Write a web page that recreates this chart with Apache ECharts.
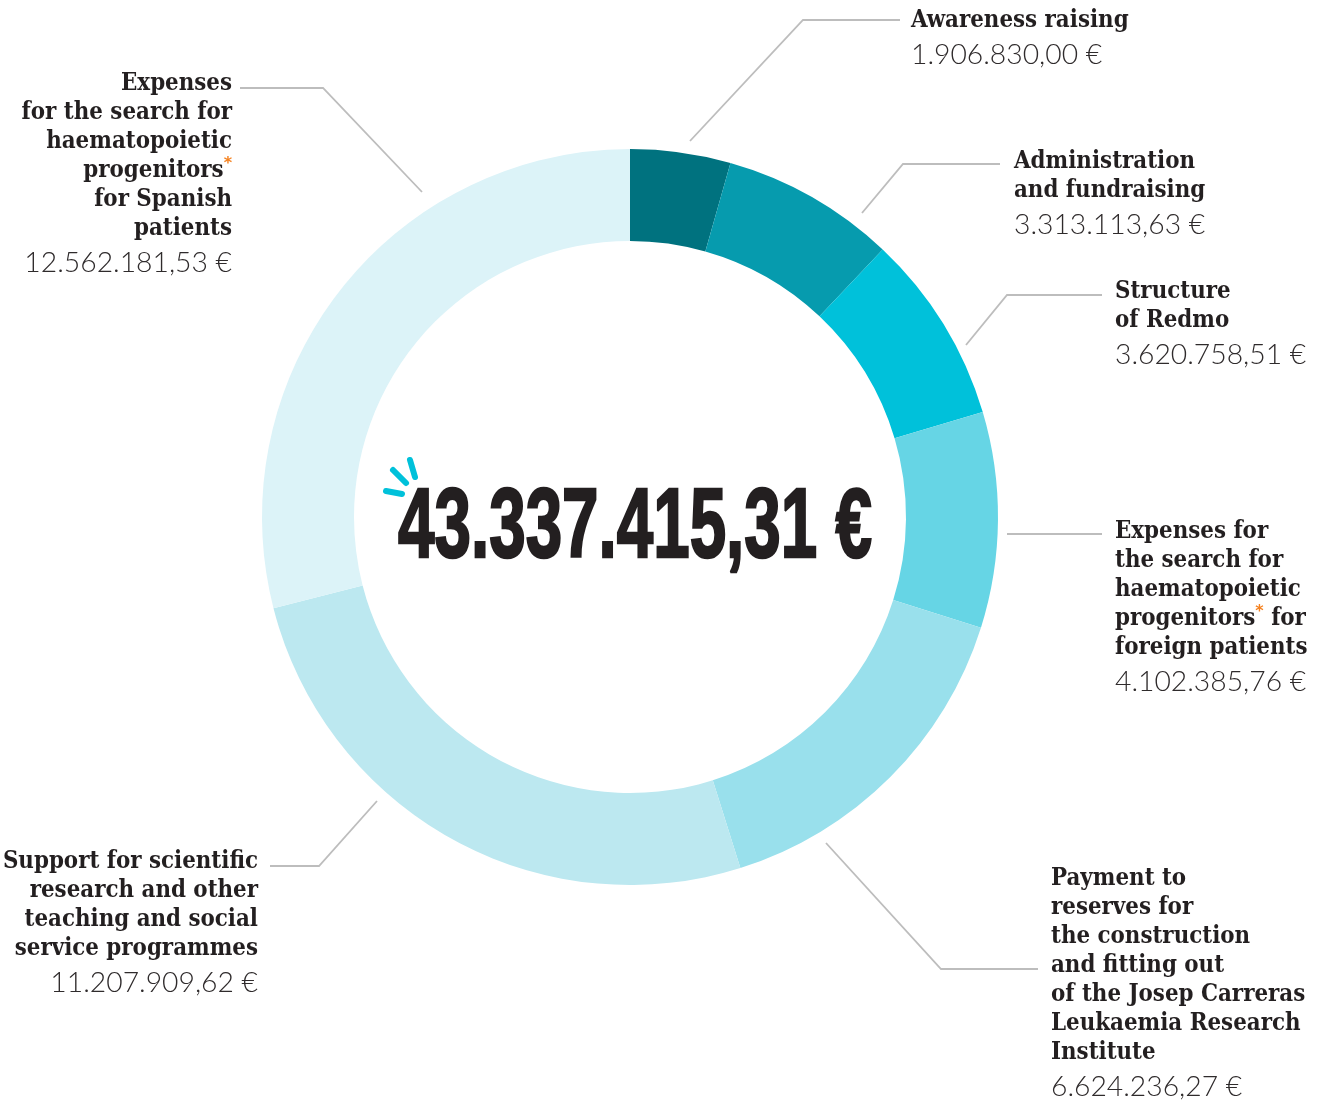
<!DOCTYPE html>
<html><head><meta charset="utf-8">
<script src="https://cdn.jsdelivr.net/npm/echarts@6/dist/echarts.min.js"></script>
<style>html,body{margin:0;padding:0;background:#fff}#c{width:1325px;height:1103px}</style>
</head><body><div id="c"></div>
<script>
const names = [
  ['Awareness raising'],
  ['Administration','and fundraising'],
  ['Structure','of Redmo'],
  ['Expenses for','the search for','haematopoietic','progenitors* for','foreign patients'],
  ['Payment to','reserves for','the construction','and fitting out','of the Josep Carreras','Leukaemia Research','Institute'],
  ['Support for scientific','research and other','teaching and social','service programmes'],
  ['Expenses','for the search for','haematopoietic','progenitors*','for Spanish','patients']
];
const values = [1906830.00, 3313113.63, 3620758.51, 4102385.76, 6624236.27, 11207909.62, 12562181.53];
const valueLabels = ['1.906.830,00 €','3.313.113,63 €','3.620.758,51 €','4.102.385,76 €','6.624.236,27 €','11.207.909,62 €','12.562.181,53 €'];
const colors = ['#00727f','#069bae','#00c1da','#66d5e5','#99e0ec','#bce8f0','#dcf3f8'];
const totalLabel = '43.337.415,31 €';
const labelAnchors = [[911,6,'left'],[1014,147,'left'],[1115,277,'left'],[1115,517,'left'],[1051,864,'left'],[258,847,'right'],[232,69,'right']];
const leaders = [
  [[690,141],[803,20],[900,20]],
  [[862,213],[903,164],[1000,164]],
  [[966,345],[1007,295],[1102,295]],
  [[1007,534],[1050,534],[1102,534]],
  [[826,843],[941,969],[1038,969]],
  [[377,801],[319,866],[270,866]],
  [[422,192],[323,88],[240,88]]
];
const sparks = [[[386,491],[402,494]],[[393,470],[406,483]],[[410,460],[415,477]]];

const rich = t => t.split('\n').map(l => l.split('*').map(p => `{n|${p}}`).join('{s|*}')).join('\n');
const chart = echarts.init(document.getElementById('c'), null, {renderer:'canvas'});
chart.setOption({
  animation:false,
  backgroundColor:'#fff',
  series:[{
    type:'pie',
    center:[630,517],
    radius:[276,368],
    startAngle:90,
    clockwise:true,
    avoidLabelOverlap:false,
    silent:true,
    itemStyle:{borderWidth:0},
    data:values.map((v,i)=>({value:v,name:names[i].join(' '),itemStyle:{color:colors[i]},
      label:{formatter:rich(names[i].join('\n'))+`\n{v|${valueLabels[i]}}`}})),
    label:{show:true,position:'outside',color:'#231f20',
      rich:{
        n:{fontFamily:'DejaVu Serif Condensed, DejaVu Serif',fontWeight:'bold',fontSize:23.8,lineHeight:29,color:'#231f20'},
        s:{fontFamily:'DejaVu Sans',fontWeight:'bold',fontSize:16,lineHeight:29,color:'#f58220',verticalAlign:'top'},
        v:{fontFamily:'Lato',fontWeight:300,fontSize:28.3,lineHeight:40,color:'#2f2b2c'}
      }},
    labelLine:{show:true,lineStyle:{color:'#bdbdbd',width:1.8}},
    labelLayout:p=>{
      const a=labelAnchors[p.dataIndex];
      return {x:a[0],y:a[1],align:a[2],verticalAlign:'top',labelLinePoints:leaders[p.dataIndex]};
    }
  }],
  graphic:[
    {type:'text',x:635,y:530,scaleX:0.662,style:{text:totalLabel,font:'bold 99px "Liberation Sans"',fill:'#231f20',stroke:'#231f20',lineWidth:2.5,textAlign:'center',textVerticalAlign:'middle'}},
    ...sparks.map(s=>({type:'line',shape:{x1:s[0][0],y1:s[0][1],x2:s[1][0],y2:s[1][1]},style:{stroke:'#00c1da',lineWidth:6,lineCap:'round'}}))
  ]
});
</script></body></html>
